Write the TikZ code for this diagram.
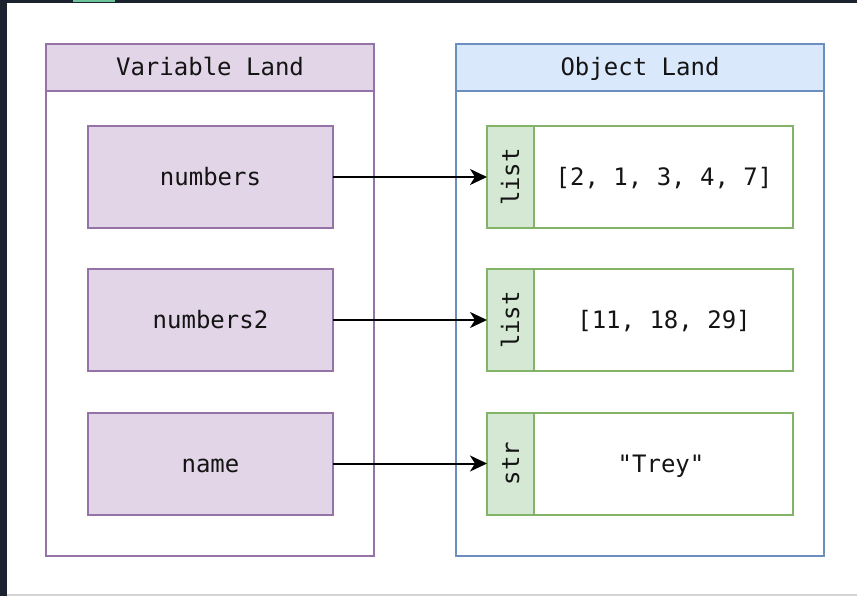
\documentclass[tikz,border=0pt]{standalone}
\usepackage{fontspec}
\setmonofont{DejaVu Sans Mono}
\usetikzlibrary{arrows.meta}
\definecolor{frame}{HTML}{1B2230}
\definecolor{tabgreen}{HTML}{6CC49A}
\definecolor{bottomgray}{HTML}{D4D4D4}
\definecolor{purfill}{HTML}{E1D5E7}
\definecolor{purline}{HTML}{9673A6}
\definecolor{bluefill}{HTML}{DAE8FC}
\definecolor{blueline}{HTML}{6C8EBF}
\definecolor{grnfill}{HTML}{D5E8D4}
\definecolor{grnline}{HTML}{82B366}
\definecolor{txt}{HTML}{141414}
\tikzset{
  base/.style={inner sep=0pt, outer sep=0pt, line width=2pt, text=txt,
    font=\ttfamily\fontsize{24}{28}\selectfont, text height=19pt, text depth=2pt},
  container/.style={base, draw, fill=white},
  header/.style={base, draw},
  varbox/.style={base, draw=purline, fill=purfill, minimum width=245pt, minimum height=102pt},
  objbox/.style={base, draw=grnline, fill=white, minimum width=306pt, minimum height=102pt},
  typebox/.style={base, draw=grnline, fill=grnfill, rotate=90, minimum width=102pt, minimum height=47pt},
  valtext/.style={base},
  link/.style={line width=2pt, black, -{Stealth[length=17pt,width=16pt,inset=5pt]}}
}
\begin{document}
\begin{tikzpicture}[x=1pt,y=-1pt]
\useasboundingbox (0,0) rectangle (857,596);
% screenshot frame
\fill[frame] (0,0) rectangle (857,596);
\fill[white] (7,3) rectangle (857,594);
\fill[bottomgray] (7,594) rectangle (857,596);
\fill[tabgreen] (73,0) rectangle (115,2);
% containers
\node[container, draw=purline, minimum width=328pt, minimum height=512pt] (vland) at (210,300) {};
\node[header, draw=purline, fill=purfill, minimum width=328pt, minimum height=47pt] (vhead) at (210,67.5) {Variable Land};
\node[container, draw=blueline, minimum width=368pt, minimum height=512pt] (oland) at (640,300) {};
\node[header, draw=blueline, fill=bluefill, minimum width=368pt, minimum height=47pt] (ohead) at (640,67.5) {Object Land};
% variables
\node[varbox] (v1) at (210.5,177) {numbers};
\node[varbox] (v2) at (210.5,320) {numbers2};
\node[varbox] (v3) at (210.5,463.5) {name};
% objects
\node[objbox] (o1) at (640,177) {};
\node[typebox] (t1) at (510.5,177) {list};
\node[valtext] (x1) at (664,177) {[2, 1, 3, 4, 7]};
\node[objbox] (o2) at (640,320) {};
\node[typebox] (t2) at (510.5,320) {list};
\node[valtext] (x2) at (664,320) {[11, 18, 29]};
\node[objbox] (o3) at (640,463.5) {};
\node[typebox] (t3) at (510.5,463.5) {str};
\node[valtext] (x3) at (661,463.5) {"Trey"};
% references
\draw[link] (v1.east) -- (o1.west);
\draw[link] (v2.east) -- (o2.west);
\draw[link] (v3.east) -- (o3.west);
\end{tikzpicture}
\end{document}
